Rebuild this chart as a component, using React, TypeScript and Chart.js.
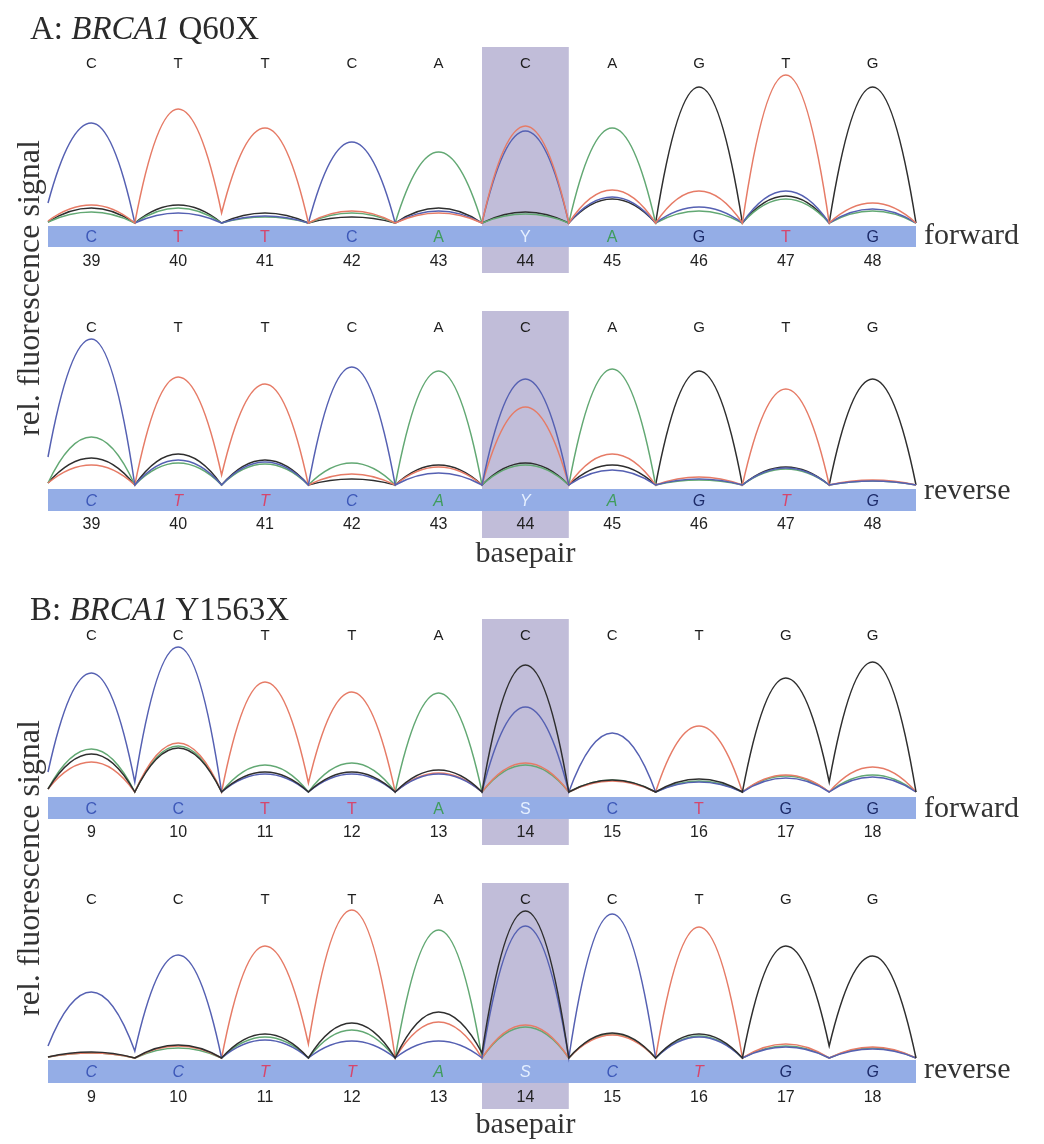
import React, { useEffect, useRef } from 'react';
import { Chart, registerables } from 'chart.js';

Chart.register(...registerables);

// ---------- labels ----------
const aTopLetters = ['C', 'T', 'T', 'C', 'A', 'C', 'A', 'G', 'T', 'G'];
const aCallLetters = ['C', 'T', 'T', 'C', 'A', 'Y', 'A', 'G', 'T', 'G'];
const aPositions = ['39', '40', '41', '42', '43', '44', '45', '46', '47', '48'];
const bTopLetters = ['C', 'C', 'T', 'T', 'A', 'C', 'C', 'T', 'G', 'G'];
const bCallLetters = ['C', 'C', 'T', 'T', 'A', 'S', 'C', 'T', 'G', 'G'];
const bPositions = ['9', '10', '11', '12', '13', '14', '15', '16', '17', '18'];
const highlightIndex = 5;

// ---------- A forward: peak heights per base, valley heights between bases ----------
const aFwdC = [100, 10, 7, 81, 12, 92, 26, 16, 32, 14];
const aFwdT = [18, 114, 95, 12, 10, 97, 33, 32, 148, 20];
const aFwdA = [11, 15, 6, 10, 71, 9, 95, 12, 24, 12];
const aFwdG = [15, 18, 10, 6, 15, 11, 24, 136, 27, 136];
const aFwdValC = [20, 0, 0, 0, 0, 0, 0, 0, 0, 0, 0];
const aFwdValT = [2, 0, 10, 0, 0, 0, 0, 0, 0, 0, 0];
const aFwdValA = [1, 0, 0, 0, 0, 0, 0, 0, 0, 0, 0];
const aFwdValG = [1, 0, 0, 0, 0, 0, 0, 0, 0, 0, 0];

// ---------- A reverse ----------
const aRevC = [146, 25, 23, 118, 12, 106, 15, 6, 17, 4];
const aRevT = [20, 108, 101, 11, 18, 78, 31, 8, 96, 5];
const aRevA = [48, 22, 21, 22, 114, 20, 116, 5, 16, 4];
const aRevG = [27, 31, 25, 6, 20, 22, 20, 114, 18, 106];
const aRevValC = [28, 0, 0, 0, 0, 0, 0, 0, 0, 0, 0];
const aRevValT = [2, 0, 10, 0, 0, 0, 0, 0, 0, 0, 0];
const aRevValA = [2, 0, 0, 0, 0, 0, 0, 0, 0, 0, 0];
const aRevValG = [2, 0, 0, 0, 0, 0, 0, 0, 0, 0, 0];

// ---------- B forward ----------
const bFwdC = [119, 145, 18, 18, 18, 85, 59, 10, 14, 15];
const bFwdT = [30, 49, 110, 100, 19, 29, 11, 66, 17, 25];
const bFwdA = [43, 46, 27, 29, 99, 27, 12, 11, 16, 17];
const bFwdG = [38, 44, 20, 20, 22, 127, 12, 13, 114, 130];
const bFwdValC = [20, 10, 0, 0, 0, 0, 0, 0, 0, 0, 0];
const bFwdValT = [3, 0, 0, 9, 0, 0, 0, 0, 0, 0, 0];
const bFwdValA = [3, 0, 0, 0, 0, 0, 0, 0, 0, 0, 0];
const bFwdValG = [3, 0, 0, 0, 0, 0, 0, 0, 0, 10, 0];

// ---------- B reverse ----------
const bRevC = [66, 103, 18, 17, 17, 132, 144, 21, 11, 9];
const bRevT = [5, 12, 112, 148, 36, 33, 23, 131, 14, 11];
const bRevA = [5, 10, 21, 28, 128, 31, 24, 22, 12, 10];
const bRevG = [6, 13, 24, 35, 46, 147, 25, 24, 112, 102];
const bRevValC = [12, 7, 0, 0, 0, 0, 0, 0, 0, 0, 0];
const bRevValT = [1, 0, 0, 14, 0, 0, 0, 0, 0, 0, 0];
const bRevValA = [1, 0, 0, 0, 0, 0, 0, 0, 0, 0, 0];
const bRevValG = [1, 0, 0, 0, 0, 5, 0, 0, 0, 12, 0];

// ---------- styles ----------
const TRACE_COLORS: Record<string, string> = {
  C: '#5560b2',
  T: '#e67b66',
  A: '#62a873',
  G: '#2e2e2e',
};
const CALL_COLORS: Record<string, string> = {
  C: '#3d58b8',
  T: '#d6466c',
  A: '#3f9c5c',
  G: '#1c2a68',
  Y: '#e6f0ff',
  S: '#e6f0ff',
};
const RECT_COLOR = '#c1bdd9';
const STRIP_COLOR = '#94ade6';
const SANS = '"Liberation Sans", Arial, sans-serif';
const SERIF = '"Liberation Serif", "Times New Roman", serif';
const Y_MAX = 160;

function trace(peaks: number[], valleys: number[]) {
  const pts: { x: number; y: number }[] = [];
  for (let i = 0; i < valleys.length; i++) {
    pts.push({ x: i - 0.5, y: valleys[i] });
    if (i < peaks.length) pts.push({ x: i, y: peaks[i] });
  }
  return pts;
}

type PanelCfg = {
  top: number;
  height: number;
  baseline: number;
  letterY: number;
  rectTop: number;
  rectBottom: number;
  stripTop: number;
  stripBottom: number;
  numY: number;
  side: string;
  sideBase: number;
  basepairBase: number | null;
  italic: boolean;
  topLetters: string[];
  calls: string[];
  positions: string[];
  series: { base: string; peaks: number[]; valleys: number[] }[];
};

const panels: PanelCfg[] = [
  {
    top: 40, height: 245, baseline: 223, letterY: 63, rectTop: 47, rectBottom: 273,
    stripTop: 226, stripBottom: 247, numY: 260, side: 'forward', sideBase: 244, basepairBase: null,
    italic: false, topLetters: aTopLetters, calls: aCallLetters, positions: aPositions,
    series: [
      { base: 'T', peaks: aFwdT, valleys: aFwdValT },
      { base: 'C', peaks: aFwdC, valleys: aFwdValC },
      { base: 'A', peaks: aFwdA, valleys: aFwdValA },
      { base: 'G', peaks: aFwdG, valleys: aFwdValG },
    ],
  },
  {
    top: 300, height: 270, baseline: 485, letterY: 327, rectTop: 311, rectBottom: 538,
    stripTop: 489, stripBottom: 511, numY: 523, side: 'reverse', sideBase: 499, basepairBase: 562,
    italic: true, topLetters: aTopLetters, calls: aCallLetters, positions: aPositions,
    series: [
      { base: 'C', peaks: aRevC, valleys: aRevValC },
      { base: 'T', peaks: aRevT, valleys: aRevValT },
      { base: 'A', peaks: aRevA, valleys: aRevValA },
      { base: 'G', peaks: aRevG, valleys: aRevValG },
    ],
  },
  {
    top: 612, height: 240, baseline: 792, letterY: 635, rectTop: 619, rectBottom: 845,
    stripTop: 797, stripBottom: 819, numY: 831, side: 'forward', sideBase: 817, basepairBase: null,
    italic: false, topLetters: bTopLetters, calls: bCallLetters, positions: bPositions,
    series: [
      { base: 'G', peaks: bFwdG, valleys: bFwdValG },
      { base: 'C', peaks: bFwdC, valleys: bFwdValC },
      { base: 'T', peaks: bFwdT, valleys: bFwdValT },
      { base: 'A', peaks: bFwdA, valleys: bFwdValA },
    ],
  },
  {
    top: 870, height: 274, baseline: 1058, letterY: 899, rectTop: 883, rectBottom: 1109,
    stripTop: 1060, stripBottom: 1083, numY: 1096, side: 'reverse', sideBase: 1078, basepairBase: 1133,
    italic: true, topLetters: bTopLetters, calls: bCallLetters, positions: bPositions,
    series: [
      { base: 'G', peaks: bRevG, valleys: bRevValG },
      { base: 'C', peaks: bRevC, valleys: bRevValC },
      { base: 'T', peaks: bRevT, valleys: bRevValT },
      { base: 'A', peaks: bRevA, valleys: bRevValA },
    ],
  },
];

// Reshape the Bezier handles so each peak is a parabolic arch with cusp-like valleys.
const archPlugin = {
  id: 'arch',
  beforeDatasetDraw(chart: any, args: any) {
    const meta = args.meta;
    const line = meta.dataset;
    if (!line || !line.updateControlPoints) return;
    line.updateControlPoints(chart.chartArea, 'x');
    const pts = meta.data;
    for (let k = 0; k < pts.length; k++) {
      const p = pts[k];
      const prev = pts[k - 1];
      const next = pts[k + 1];
      if (k % 2 === 1) {
        const dl = prev ? (p.x - prev.x) / 3 : 0;
        const dr = next ? (next.x - p.x) / 3 : 0;
        p.cp1x = p.x - dl; p.cp1y = p.y;
        p.cp2x = p.x + dr; p.cp2y = p.y;
      } else {
        if (prev) {
          const cx = (p.x + prev.x) / 2, cy = prev.y;
          p.cp1x = p.x + (2 / 3) * (cx - p.x);
          p.cp1y = p.y + (2 / 3) * (cy - p.y);
        } else { p.cp1x = p.x; p.cp1y = p.y; }
        if (next) {
          const cx = (p.x + next.x) / 2, cy = next.y;
          p.cp2x = p.x + (2 / 3) * (cx - p.x);
          p.cp2y = p.y + (2 / 3) * (cy - p.y);
        } else { p.cp2x = p.x; p.cp2y = p.y; }
      }
    }
  },
};

function makeDecor(cfg: PanelCfg) {
  const off = cfg.top;
  return {
    id: 'decor',
    beforeDatasetsDraw(chart: any) {
      const ctx = chart.ctx;
      const xs = chart.scales.x;
      const xl = xs.getPixelForValue(highlightIndex - 0.5);
      const xr = xs.getPixelForValue(highlightIndex + 0.5);
      ctx.save();
      ctx.fillStyle = RECT_COLOR;
      ctx.fillRect(xl, cfg.rectTop - off, xr - xl, cfg.rectBottom - cfg.rectTop);
      const sl = xs.getPixelForValue(xs.min);
      const sr = xs.getPixelForValue(xs.max);
      ctx.fillStyle = STRIP_COLOR;
      ctx.fillRect(sl, cfg.stripTop - off, sr - sl, cfg.stripBottom - cfg.stripTop);
      ctx.restore();
    },
    afterDatasetsDraw(chart: any) {
      const ctx = chart.ctx;
      const xs = chart.scales.x;
      ctx.save();
      ctx.textAlign = 'center';
      ctx.textBaseline = 'alphabetic';
      ctx.fillStyle = '#1e1e1e';
      ctx.font = `15px ${SANS}`;
      cfg.topLetters.forEach((l, i) => {
        ctx.fillText(l, xs.getPixelForValue(i), cfg.letterY - off + 5.4);
      });
      const stripMid = (cfg.stripTop + cfg.stripBottom) / 2;
      ctx.font = `${cfg.italic ? 'italic ' : ''}16px ${SANS}`;
      cfg.calls.forEach((l, i) => {
        ctx.fillStyle = CALL_COLORS[l] || '#000';
        ctx.fillText(l, xs.getPixelForValue(i), stripMid - off + 5.8);
      });
      ctx.font = `16px ${SANS}`;
      ctx.fillStyle = '#222';
      cfg.positions.forEach((l, i) => {
        ctx.fillText(l, xs.getPixelForValue(i), cfg.numY - off + 5.8);
      });
      ctx.font = `30px ${SERIF}`;
      ctx.fillStyle = '#333';
      ctx.textAlign = 'left';
      ctx.fillText(cfg.side, xs.getPixelForValue(xs.max) + 8, cfg.sideBase - off);
      if (cfg.basepairBase !== null) {
        ctx.textAlign = 'center';
        const xc = xs.getPixelForValue(highlightIndex);
        ctx.fillText('basepair', xc, cfg.basepairBase - off);
      }
      ctx.restore();
    },
  };
}

function Panel({ cfg }: { cfg: PanelCfg }) {
  const ref = useRef<HTMLCanvasElement>(null);
  useEffect(() => {
    if (!ref.current) return;
    const padTop = cfg.baseline - Y_MAX - cfg.top;
    const padBottom = cfg.top + cfg.height - cfg.baseline;
    const chart = new Chart(ref.current, {
      type: 'line',
      data: {
        datasets: cfg.series.map((s) => ({
          label: s.base,
          data: trace(s.peaks, s.valleys),
          borderColor: TRACE_COLORS[s.base],
          borderWidth: 1.5,
          pointRadius: 0,
          pointHoverRadius: 0,
          tension: 0.4,
          fill: false,
          clip: 6,
        })),
      },
      options: {
        animation: false,
        responsive: false,
        devicePixelRatio: 1,
        events: [],
        layout: { padding: { left: 48, right: 128, top: padTop, bottom: padBottom } },
        plugins: { legend: { display: false }, tooltip: { enabled: false }, title: { display: false } },
        scales: {
          x: { type: 'linear', min: -0.5, max: 9.5, display: false },
          y: { type: 'linear', min: 0, max: Y_MAX, display: false },
        },
      },
      plugins: [makeDecor(cfg), archPlugin],
    } as any);
    return () => chart.destroy();
  }, [cfg]);
  return (
    <canvas
      ref={ref}
      width={1044}
      height={cfg.height}
      style={{ position: 'absolute', left: 0, top: cfg.top, width: 1044, height: cfg.height }}
    />
  );
}

function YLabel({ cy }: { cy: number }) {
  const w = 420;
  return (
    <div
      style={{
        position: 'absolute',
        left: 26 - w / 2,
        top: cy - 16,
        width: w,
        height: 32,
        lineHeight: '32px',
        font: `32px ${SERIF}`,
        color: '#333',
        textAlign: 'center',
        transform: 'rotate(-90deg)',
        transformOrigin: '50% 50%',
        whiteSpace: 'nowrap',
      }}
    >
      rel. fluorescence signal
    </div>
  );
}

function Title({ baseline, children }: { baseline: number; children: React.ReactNode }) {
  return (
    <div
      style={{
        position: 'absolute',
        left: 30,
        top: baseline - 0.8375 * 33,
        height: 33,
        lineHeight: '33px',
        font: `33px ${SERIF}`,
        color: '#2a2a2a',
        whiteSpace: 'nowrap',
      }}
    >
      {children}
    </div>
  );
}

export default function App() {
  return (
    <div style={{ position: 'absolute', left: 0, top: 0, width: 1044, height: 1144, background: '#fff', overflow: 'hidden' }}>
      {panels.map((p, i) => (
        <Panel key={i} cfg={p} />
      ))}
      <Title baseline={38}>
        A: <i>BRCA1</i> Q60X
      </Title>
      <Title baseline={619}>
        B: <i>BRCA1</i> Y1563X
      </Title>
      <YLabel cy={288} />
      <YLabel cy={868} />
    </div>
  );
}
